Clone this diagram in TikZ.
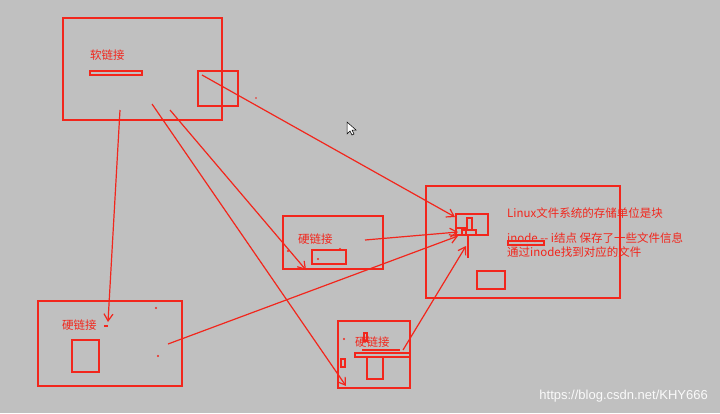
\documentclass[tikz,border=0pt]{standalone}
\usepackage{fontspec}
\setmainfont{Noto Sans CJK SC}
\newfontfamily\wm{Liberation Sans}
\usetikzlibrary{arrows.meta}
\definecolor{pen}{RGB}{242,38,28}
\definecolor{bg}{RGB}{192,192,192}
\tikzset{
  box/.style={draw=pen,line width=1.4pt},
  thin/.style={draw=pen,line width=1.1pt},
  arr/.style={draw=pen,line width=1.2pt,-{Straight Barb[length=7pt,width=9pt,line width=1.2pt]}},
  lbl/.style={text=pen,font=\fontsize{11.5}{12}\selectfont,inner sep=0pt,anchor=west},
  dotp/.style={fill=pen,circle,inner sep=0.8pt}
}
\begin{document}
\begin{tikzpicture}[x=1pt,y=-1pt]
\fill[bg] (0,0) rectangle (720,413);
\useasboundingbox (0,0) rectangle (720,413);
% soft link box
\draw[box] (63,18) rectangle (222,120);
\node[lbl] (soft) at (90,55) {软链接};
\draw[thin] (90,71) rectangle (142,75);
\draw[box] (198,71) rectangle (238,106);
% inode box
\draw[box] (426,186) rectangle (620,298);
\draw[draw=pen,line width=2.6pt] (456,214) rectangle (488,235);
\draw[thin] (467,218) rectangle (472,230);
\draw[thin] (456,228) rectangle (466,235);
\draw[thin] (462,230) rectangle (476,235);
\draw[thin] (477,271) rectangle (505,289);
\node[lbl] (t1) at (507,213) {Linux文件系统的存储单位是块};
\node[lbl] (t2) at (507,238) {inode -{}- i结点 保存了一些文件信息};
\node[lbl] (t3) at (507,252) {通过inode找到对应的文件};
\draw[thin] (508,241) rectangle (544,245);
\coordinate (vtop) at (468,235);
\coordinate (vbot) at (468,258);
\draw[thin] (vtop) -- (vbot);
% middle hard link
\draw[box] (283,216) rectangle (383,269);
\node[lbl] (h1) at (298,239) {硬链接};
\draw[thin] (312,250) rectangle (346,264);
\node[dotp] at (288,251) {};
\node[dotp] at (318,259) {};
\node[dotp] at (340,249) {};
% bottom-left hard link
\draw[box] (38,301) rectangle (182,386);
\node[lbl] (h2) at (62,325) {硬链接};
\draw[thin] (72,340) rectangle (99,372);
\draw[thin] (104,326) -- (108,326);
\node[dotp] at (156,308) {};
\node[dotp] at (158,356) {};
% bottom hard link
\draw[box] (338,321) rectangle (410,388);
\node[lbl] (h3) at (355,342) {硬链接};
\draw[thin] (355,353) rectangle (410,357);
\draw[thin] (367,357) rectangle (383,379);
\draw[thin] (364,333) rectangle (367,341);
\draw[thin] (341,359) rectangle (345,367);
\draw[thin] (362,350) -- (400,350);
\node[dotp] at (344,339) {};
% arrows
\coordinate (s1) at (202,75);   \coordinate (e1) at (455,217);
\coordinate (s2) at (120,110);  \coordinate (e2) at (108,322);
\coordinate (s3) at (152,104);  \coordinate (e3) at (346,386);
\coordinate (s4) at (170,110);  \coordinate (e4) at (306,270);
\coordinate (s5) at (365,240);  \coordinate (e5) at (458,232);
\coordinate (s6) at (168,344);  \coordinate (e6) at (458,236);
\coordinate (s7) at (403,350);  \coordinate (e7) at (466,246);
\draw[arr] (s1) -- (e1);
\draw[arr] (s2) -- (e2);
\draw[arr] (s3) -- (e3);
\draw[arr] (s4) -- (e4);
\draw[arr] (s5) -- (e5);
\draw[arr] (s6) -- (e6);
\draw[arr] (s7) -- (e7);
\node[dotp,inner sep=0.6pt] at (256,98) {};
% cursor
\draw[fill=white,draw=black,line width=0.5pt] (347,122) -- (347,134) -- (350,131) -- (352,135) -- (354,134) -- (352,130) -- (356,130) -- cycle;
% watermark
\node[text=white!92!bg,font=\wm\fontsize{13}{14}\selectfont,anchor=east,inner sep=0pt] (wmk) at (708,396) {https://blog.csdn.net/KHY666};
\end{tikzpicture}
\end{document}
